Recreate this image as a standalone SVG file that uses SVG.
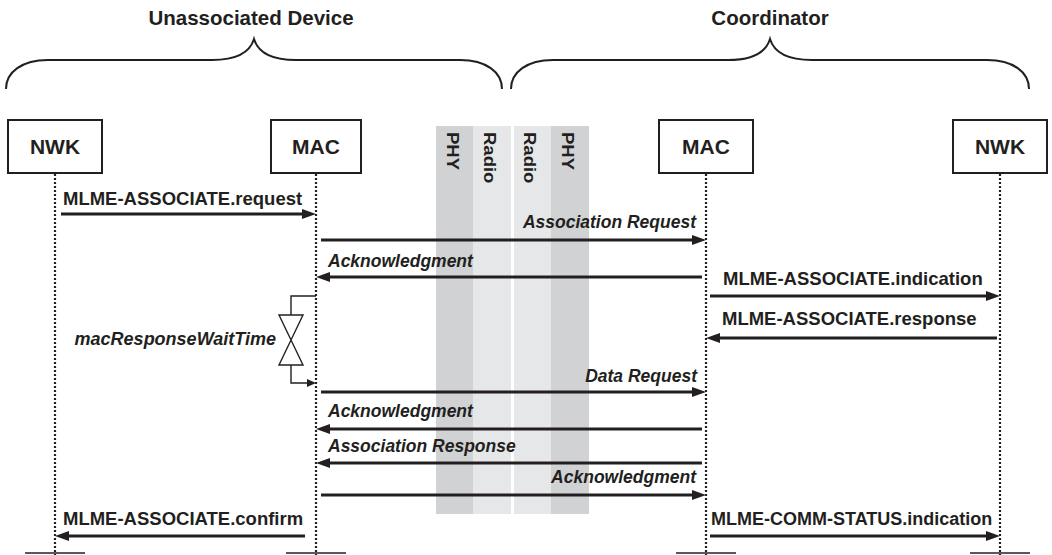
<svg xmlns="http://www.w3.org/2000/svg" width="1052" height="555" viewBox="0 0 1052 555">
<style>
.t{font-family:"Liberation Sans",Arial,sans-serif;font-weight:bold;fill:#231f20}
.hdr{font-size:20.5px;text-anchor:middle}
.box{font-size:21px;text-anchor:middle}
.msg{font-size:18.5px}
.frm{font-size:17.5px;font-style:italic}
.bar{font-size:18.5px}
.nb{fill:#fff;stroke:#231f20;stroke-width:2}
.life{stroke:#231f20;stroke-width:2.2;stroke-dasharray:2 2;fill:none}
.tick{stroke:#231f20;stroke-width:1.3}
.arr{stroke:#231f20;stroke-width:3.2;fill:none;marker-end:url(#ah)}
.brace{fill:none;stroke:#231f20;stroke-width:2}
.thin{fill:none;stroke:#231f20;stroke-width:1.4}
</style>
<defs>
<marker id="ah" markerUnits="userSpaceOnUse" markerWidth="14" markerHeight="10" refX="6" refY="5" orient="auto">
<path d="M0,0 L14,5 L0,10 z" fill="#231f20"/>
</marker>
<marker id="ahs" markerUnits="userSpaceOnUse" markerWidth="9" markerHeight="8" refX="3" refY="4" orient="auto">
<path d="M0,0 L9,4 L0,8 z" fill="#231f20"/>
</marker>
</defs>
<rect width="1052" height="555" fill="#fff"/>

<g id="radio-bars">
<rect x="436" y="126" width="37" height="388" fill="#d1d2d4"/>
<rect x="473" y="126" width="38" height="388" fill="#e6e7e8"/>
<rect x="514" y="126" width="37" height="388" fill="#e6e7e8"/>
<rect x="551" y="126" width="38" height="388" fill="#d1d2d4"/>
<text class="t bar" transform="translate(447,132) rotate(90) scale(1,0.85)">PHY</text>
<text class="t bar" transform="translate(484,132) rotate(90) scale(1,0.85)">Radio</text>
<text class="t bar" transform="translate(524,132) rotate(90) scale(1,0.85)">Radio</text>
<text class="t bar" transform="translate(562,132) rotate(90) scale(1,0.85)">PHY</text>
</g>

<g id="groups">
<path class="brace" d="M6,89 C6,72 22,60 48,60 L212,60 C236,60 250,52 254,39 C258,52 272,60 296,60 L460,60 C486,60 502,72 502,89"/>
<text class="t hdr" x="251" y="25">Unassociated Device</text>
<path class="brace" d="M511,89 C511,72 527,60 553,60 L728,60 C752,60 766,52 770,39 C774,52 788,60 812,60 L987,60 C1013,60 1029,72 1029,89"/>
<text class="t hdr" x="770" y="25">Coordinator</text>
</g>

<g id="lifelines">
<line class="life" x1="55" y1="174" x2="55" y2="555"/>
<line class="life" x1="316" y1="174" x2="316" y2="555"/>
<line class="life" x1="706" y1="174" x2="706" y2="555"/>
<line class="life" x1="1000" y1="174" x2="1000" y2="555"/>
<line class="tick" x1="25" y1="553" x2="85" y2="553"/>
<line class="tick" x1="286" y1="553" x2="346" y2="553"/>
<line class="tick" x1="676" y1="553" x2="736" y2="553"/>
<line class="tick" x1="970" y1="553" x2="1030" y2="553"/>
</g>

<g id="node-nwk-dev">
<rect class="nb" x="8" y="120" width="94" height="53"/>
<text class="t box" x="55" y="154">NWK</text>
</g>
<g id="node-mac-dev">
<rect class="nb" x="271" y="120" width="90" height="53"/>
<text class="t box" x="316" y="154">MAC</text>
</g>
<g id="node-mac-coord">
<rect class="nb" x="659" y="120" width="94" height="53"/>
<text class="t box" x="706" y="154">MAC</text>
</g>
<g id="node-nwk-coord">
<rect class="nb" x="953" y="120" width="94" height="53"/>
<text class="t box" x="1000" y="154">NWK</text>
</g>

<g id="connectors">
<line class="arr" x1="61" y1="214" x2="308" y2="214"/>
<line class="arr" x1="321" y1="240" x2="698" y2="240"/>
<line class="arr" x1="702" y1="277" x2="324" y2="277"/>
<line class="arr" x1="710" y1="296" x2="992" y2="296"/>
<line class="arr" x1="997" y1="338" x2="714" y2="338"/>
<line class="arr" x1="321" y1="392" x2="698" y2="392"/>
<line class="arr" x1="702" y1="429" x2="324" y2="429"/>
<line class="arr" x1="702" y1="463" x2="324" y2="463"/>
<line class="arr" x1="321" y1="495" x2="698" y2="495"/>
<line class="arr" x1="305" y1="536" x2="63" y2="536"/>
<line class="arr" x1="710" y1="536" x2="992" y2="536"/>
<path class="thin" d="M316,296 H291 V315"/>
<path class="thin" d="M291,365 V383 H310" marker-end="url(#ahs)"/>
</g>

<g id="timer">
<path d="M279,315 H303 L291,340 Z M291,340 L303,365 H279 Z" fill="#fff" stroke="#231f20" stroke-width="1.4" stroke-linejoin="miter"/>
<text class="t frm" style="font-size:18px" x="276" y="345" text-anchor="end">macResponseWaitTime</text>
</g>

<g id="labels">
<text class="t msg" x="63" y="205">MLME-ASSOCIATE.request</text>
<text class="t frm" x="696" y="228" text-anchor="end">Association Request</text>
<text class="t frm" x="328" y="267">Acknowledgment</text>
<text class="t msg" x="723" y="285">MLME-ASSOCIATE.indication</text>
<text class="t msg" x="722" y="325">MLME-ASSOCIATE.response</text>
<text class="t frm" x="697" y="382" text-anchor="end">Data Request</text>
<text class="t frm" x="328" y="417">Acknowledgment</text>
<text class="t frm" x="328" y="452">Association Response</text>
<text class="t frm" x="696" y="483" text-anchor="end">Acknowledgment</text>
<text class="t msg" x="63" y="525">MLME-ASSOCIATE.confirm</text>
<text class="t msg" style="font-size:18px" x="711" y="525">MLME-COMM-STATUS.indication</text>
</g>
</svg>
